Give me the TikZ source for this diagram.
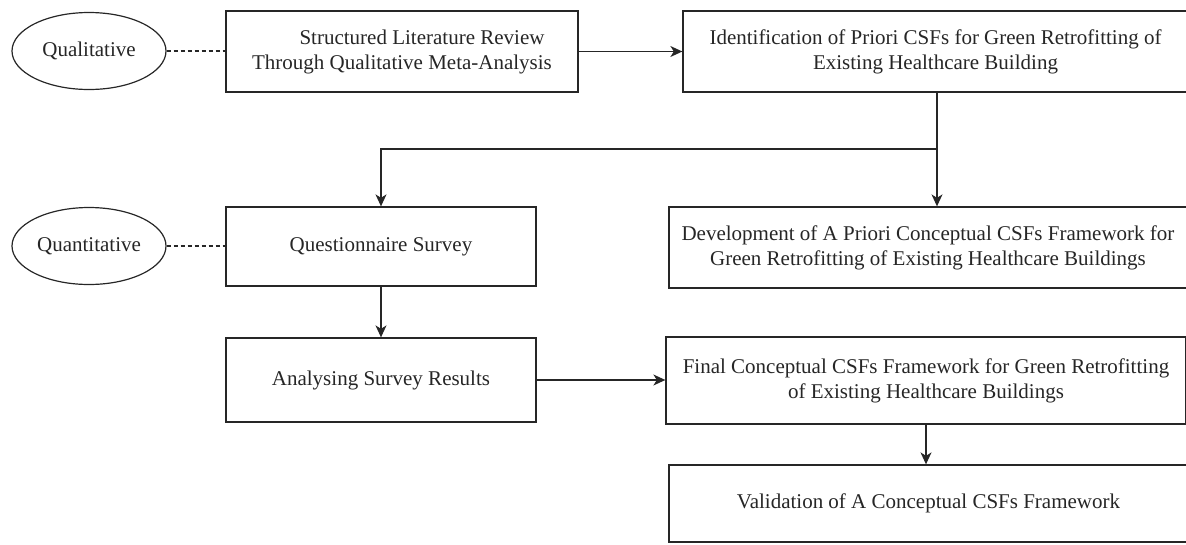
\documentclass[tikz,border=0pt]{standalone}
\usepackage{fontspec}
\setmainfont{Liberation Serif}
\usetikzlibrary{arrows.meta,shapes.geometric}
\begin{document}
\begin{tikzpicture}[x=1pt,y=-1pt,
  box/.style={draw=black!85, line width=1.3pt, rectangle, inner sep=0pt, align=center,
    font=\fontsize{21}{25}\selectfont, text=black!85},
  oval/.style={draw=black!85, line width=1.2pt, ellipse, inner sep=0pt,
    minimum width=154pt, minimum height=77pt,
    font=\fontsize{21}{25}\selectfont, text=black!85},
  arr/.style={draw=black!85, line width=1.3pt, -{Stealth[length=12pt,width=11pt,inset=3.5pt]}},
  dsh/.style={draw=black!85, line width=1.2pt, dash pattern=on 4pt off 3pt}]
\useasboundingbox (0,0) rectangle (1186,544);
\clip (0,0) rectangle (1186,544);
% ovals
\node[oval] (q1) at (89,51) {Qualitative};
\node[oval] (q2) at (89,246) {Quantitative};
% boxes
\node[box, minimum width=352pt, minimum height=81pt] (b1) at (402,51.5)
  {\hspace*{40pt}Structured Literature Review\\Through Qualitative Meta-Analysis};
\node[box, minimum width=505pt, minimum height=81pt] (b2) at (935.5,51.5)
  {Identification of Priori CSFs for Green Retrofitting of\\Existing Healthcare Building};
\node[box, minimum width=310pt, minimum height=79pt] (b3) at (381,246.5)
  {Questionnaire Survey};
\node[box, minimum width=518pt, minimum height=81pt] (b4) at (928,247.5)
  {Development of A Priori Conceptual CSFs Framework for\\Green Retrofitting of Existing Healthcare Buildings};
\node[box, minimum width=310pt, minimum height=84pt] (b5) at (381,380)
  {Analysing Survey Results};
\node[box, minimum width=520pt, minimum height=87pt] (b6) at (926,380.5)
  {Final Conceptual CSFs Framework for Green Retrofitting\\of Existing Healthcare Buildings};
\node[box, minimum width=519pt, minimum height=77pt] (b7) at (928.5,503.5)
  {Validation of A Conceptual CSFs Framework};
% connectors
\draw[dsh] (q1.east) -- (q1.east -| b1.west);
\draw[dsh] (q2.east) -- (q2.east -| b3.west);
\draw[arr] (b1.east) -- (b1.east -| b2.west);
\coordinate (j) at ([xshift=1.5pt]b2.south);
\coordinate (jm) at (j |- 0,149);
\draw[arr] (j) -- (j |- b4.north);
\draw[arr] (jm) -| (b3.north);
\draw[arr] (b3.south) -- (b5.north);
\draw[arr] (b5.east) -- (b5.east -| b6.west);
\draw[arr] (b6.south) -- (b6.south |- b7.north);
\end{tikzpicture}
\end{document}
